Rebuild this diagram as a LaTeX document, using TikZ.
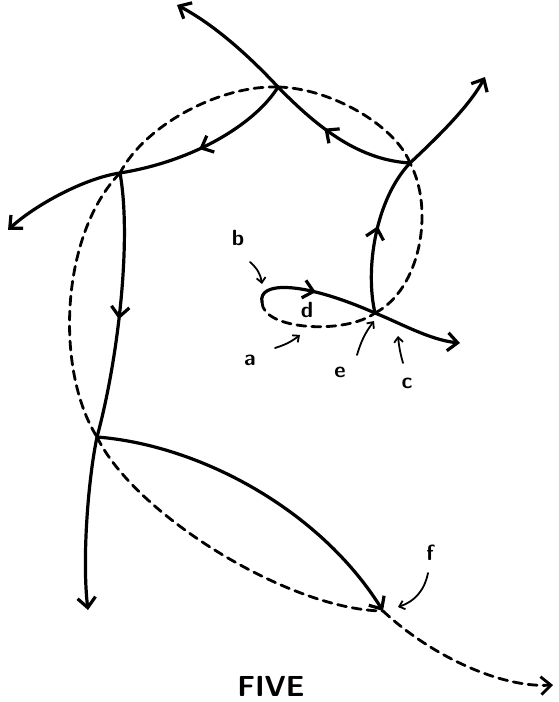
\documentclass[tikz,border=0pt]{standalone}
\usepackage{tikz}
\usetikzlibrary{arrows.meta, decorations.markings}

\begin{document}
\begin{tikzpicture}[x=1pt, y=-1pt, line cap=round,
  track/.style={line width=3.2pt, draw=black},
  ghost/.style={line width=2.8pt, draw=black, dash pattern=on 9pt off 6pt},
  tip/.style={-{Straight Barb[length=10pt, width=18pt]}},
  midarrow/.style={postaction={decorate}, decoration={markings,
      mark=at position #1 with {\arrow{Straight Barb[length=10pt, width=18pt]}}}},
  letter/.style={font=\sffamily\bfseries\fontsize{22}{24}\selectfont, inner sep=0pt},
  pointer/.style={line width=1.8pt, -{Straight Barb[length=5pt, width=9pt]}}
]
  \useasboundingbox (0,0) rectangle (558,702);

  % crossings of the loops
  \coordinate (v1) at (278,87);
  \coordinate (v2) at (410,163);
  \coordinate (v3) at (120,173);
  \coordinate (v4) at (97,437);
  \coordinate (ce) at (375,313);
  \coordinate (cl) at (262,302);
  \coordinate (cf) at (383,611);

  % loose ends
  \coordinate (t1) at (177,5);
  \coordinate (t2) at (8,230);
  \coordinate (t3) at (88,610);
  \coordinate (t4) at (485,77);
  \coordinate (t5) at (460,343);
  \coordinate (t6) at (553,685);

  % dashed circle
  \draw[ghost] (cl) .. controls (262,330) and (345,335) .. (ce);
  \draw[ghost] (ce) .. controls (420,290) and (435,210) .. (v2);
  \draw[ghost] (v2) .. controls (395,125) and (330,88) .. (v1);
  \draw[ghost] (v1) .. controls (220,85) and (145,125) .. (v3);
  \draw[ghost] (v3) .. controls (60,235) and (55,370) .. (v4);
  \draw[ghost] (v4) .. controls (135,515) and (290,610) .. (cf);
  \draw[ghost, tip] (cf) .. controls (430,655) and (500,688) .. (t6);

  % solid strands
  \draw[track, midarrow=0.5] (cl) .. controls (258,282) and (300,280) .. (ce);
  \draw[track, tip] (ce) .. controls (400,323) and (430,340) .. (t5);
  \draw[track, midarrow=0.55] (ce) .. controls (365,270) and (375,200) .. (v2);
  \draw[track, tip] (v2) .. controls (440,135) and (470,105) .. (t4);
  \draw[track, midarrow=0.6] (v2) .. controls (360,160) and (320,130) .. (v1);
  \draw[track, tip] (v1) .. controls (250,57) and (215,25) .. (t1);
  \draw[track, midarrow=0.55] (v1) .. controls (258,120) and (200,160) .. (v3);
  \draw[track, tip] (v3) .. controls (85,178) and (35,205) .. (t2);
  \draw[track, midarrow=0.55] (v3) .. controls (132,240) and (118,360) .. (v4);
  \draw[track, tip] (v4) .. controls (88,480) and (82,560) .. (t3);
  \draw[track, tip] (v4) .. controls (200,445) and (320,510) .. (cf);

  % labels
  \node[letter] (lb) at (238,238) {b};
  \node[letter] (ld) at (307,310) {d};
  \node[letter] (la) at (250,360) {a};
  \node[letter] (le) at (340,372) {e};
  \node[letter] (lc) at (407,383) {c};
  \node[letter] (lf) at (430,553) {f};
  \node[font=\sffamily\bfseries\fontsize{29}{30}\selectfont, inner sep=0pt] (title) at (271,686) {FIVE};

  \coordinate (pb) at (262,284);
  \coordinate (pa) at (300,335);
  \coordinate (pe) at (374,321);
  \coordinate (pc) at (398,336);
  \coordinate (pf) at (398,607);

  \draw[pointer] (250,262) to[bend left=20] (pb);
  \draw[pointer] (275,348) to[bend right=10] (pa);
  \draw[pointer] (357,355) to[bend left=10] (pe);
  \draw[pointer] (403,363) to[bend left=5] (pc);
  \draw[pointer] (428,573) to[bend left=30] (pf);
\end{tikzpicture}
\end{document}
